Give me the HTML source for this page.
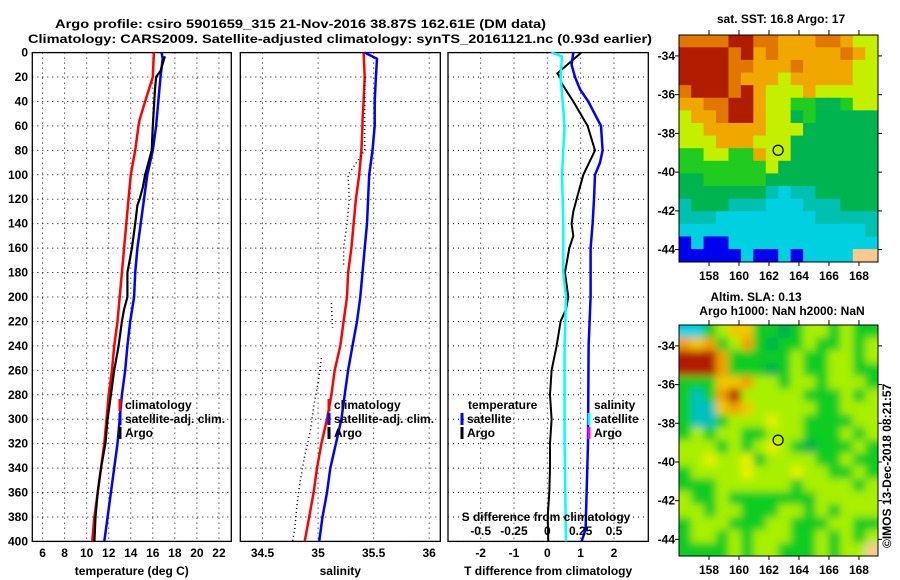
<!DOCTYPE html>
<html><head><meta charset="utf-8"><style>
html,body{margin:0;padding:0;background:#fff}
svg{display:block}
text{font-family:"Liberation Sans",Arial,sans-serif;font-weight:bold;font-size:12px;fill:#000}
</style></head><body>
<svg id="fig" width="900" height="580" viewBox="0 0 900 580" xmlns="http://www.w3.org/2000/svg">
<text x="55" y="28" font-size="14" textLength="491" lengthAdjust="spacingAndGlyphs">Argo profile: csiro 5901659_315 21-Nov-2016 38.87S 162.61E (DM data)</text>
<text x="28" y="43" font-size="14" textLength="624" lengthAdjust="spacingAndGlyphs">Climatology: CARS2009. Satellite-adjusted climatology: synTS_20161121.nc (0.93d earlier)</text>
<g id="p1"></g>
<g id="p2"></g>
<g id="p3"></g>
<g id="m1"></g>
<g id="m2"></g>
<text x="781" y="23" text-anchor="middle">sat. SST: 16.8 Argo: 17</text>
<text x="756" y="301" text-anchor="middle">Altim. SLA: 0.13</text>
<text x="782" y="315" text-anchor="middle">Argo h1000: NaN h2000: NaN</text>
<text transform="translate(891,548) rotate(-90)" font-weight="normal" font-size="11">©IMOS 13-Dec-2018 08:21:57</text>
</svg>
<script>
// ---- data ----
const depthTicks = [0,20,40,60,80,100,120,140,160,180,200,220,240,260,280,300,320,340,360,380,400];
const tempTicks = [6,8,10,12,14,16,18,20,22];
const salTicks = [34.5,35,35.5,36];
const salTickLabels = ["34.5","35","35.5","36"];
const tdiffTicks = [-2,-1,0,1,2];
const sdiffTicks = [-0.5,-0.25,0,0.25,0.5];
const sdiffTickLabels = ["-0.5","-0.25","0","0.25","0.5"];

const climDepth = [0,20,40,55,60,80,100,120,140,160,180,200,220,240,260,280,300,320,340,360,380,400];
const climTemp  = [16.1,16.0,15.3,14.8,14.7,14.4,14.0,13.8,13.6,13.4,13.2,13.0,12.8,12.5,12.3,12.0,11.8,11.6,11.3,11.0,10.7,10.5];
const satDepth  = [0,5,20,40,60,80,100,120,140,160,180,200,220,240,260,280,300,320,340,360,380,400];
const satTemp   = [16.8,16.9,16.7,16.5,16.3,16.0,15.5,15.2,14.9,14.6,14.4,14.3,13.95,13.7,13.5,13.2,13.0,12.8,12.5,12.2,11.9,11.6];
const argoDepth = [3,15,20,30,60,80,90,100,110,120,125,140,160,170,180,200,210,220,240,260,280,300,320,340,360,380,400];
const argoTemp  = [17.1,16.7,16.3,16.2,16.0,15.9,15.6,15.3,15.1,14.8,14.6,14.4,14.1,13.9,13.7,13.7,13.4,13.2,12.9,12.5,12.2,11.9,11.7,11.3,11.0,10.8,10.7];

const climSal = [35.41,35.42,35.41,35.40,35.40,35.39,35.37,35.34,35.32,35.30,35.27,35.26,35.23,35.20,35.15,35.12,35.08,35.03,34.99,34.96,34.92,34.88];
const satSal  = [35.42,35.53,35.52,35.51,35.51,35.49,35.46,35.45,35.44,35.42,35.40,35.38,35.35,35.31,35.27,35.24,35.21,35.16,35.11,35.08,35.04,35.01];
const argoSalDepth = [20,40,60,80,100,120,140,160,175,null,205,225,null,250,270,290,310,330,350,370,390,400];
const argoSal      = [35.42,35.42,35.42,35.42,35.27,35.28,35.26,35.23,35.23,null,35.12,35.13,null,35.03,35.00,34.96,34.93,34.88,34.84,34.81,34.79,34.77];

const tdiffArgoDepth = [0,17,20,25,40,60,80,100,120,130,140,150,160,180,200,210,220,240,260,280,300,320,340,360,380,400];
const tdiffArgo      = [1.02,0.30,0.38,0.43,0.78,1.21,1.43,1.08,0.88,0.78,0.73,0.78,0.66,0.53,0.63,0.56,0.40,0.28,0.13,0.08,0.13,0.08,0.08,0.06,0.01,0.03];
const tdiffSatDepth  = [0,10,20,30,40,60,80,90,100,120,140,160,200,240,280,320,360,390,400];
const tdiffSat       = [0.78,0.73,0.83,0.98,1.23,1.61,1.66,1.58,1.43,1.40,1.36,1.30,1.30,1.24,1.23,1.22,1.18,1.15,1.03];
const sdiffSatDepth  = [0,3,20,60,100,140,180,200,240,280,320,400];
const sdiffSat       = [0.03,0.11,0.10,0.13,0.11,0.12,0.12,0.14,0.13,0.13,0.13,0.14];

const lonTicks = [158,160,162,164,166,168];
const latTicks = [-34,-36,-38,-40,-42,-44];
const argoLon = 162.61, argoLat = -38.87;
const sstGrid = [
"OOOORROOAAAOOALL","RRRRORAOAAAAAOAL","RRRROOAAAOAAAALL","RRRROAAALAAAAALL",
"ORRRORALLLALLLLL","AAOORRALLGGDDGLL","LAAORRALLDGDDDDD","LLAAAAALLLDDDDDD",
"LLLAAALLLDDDDDDD","GGLLGGALLDDDDDDD","GGGGGGGLDDDDDDDD","DDGGGGGDDDDDDDDD",
"DDDDDDDTCTTDDDDD","TDDDTTTCCCTTTDDD","TTTCCCCCCCCTTTTT","CCCCCCCCCCCCCCCT",
"BCBBCCCCCCCCCCCC","BBBBBCBBCBCCCCPP"];
const slaGrid = [
"CCGLAAGGDGLLGLGG","OAOGLOGDGGLGGLGL","RRROGGGGGLGGLLGL","RRROGGGDGLGGLLGG",
"GGGAAOLLGLLGLLLG","GTGORLLLLLGGGLGL","GTTAOALLLLLGGLLL","GTTGLLLYLLGGGGLL",
"GLGLLGGLLLGGGLGL","LLLGLGLYLGDGGGLG","LLYLLYGLLLLGGLGG","GLLLLYLLLYLLGGLG",
"GGGLLLLLLGLLLLGL","LGGLGGGGGGGLLLLL","LLGLLGGGLLGLGLLL","GLLLGGGLLGGGLLGG",
"GLLGLGLLLGGLGLGL","GGGGLGLLGGGLGLLP"];

// ---- helpers ----
const NS = "http://www.w3.org/2000/svg";
function mk(parent, tag, attrs){const e=document.createElementNS(NS,tag);for(const k in attrs)e.setAttribute(k,attrs[k]);parent.appendChild(e);return e;}
const TOP=52.6, BOT=541.4;
function yD(d){return TOP+(d/400)*(BOT-TOP);}
function lin(d0,d1,r0,r1){return v=>r0+(v-d0)*(r1-r0)/(d1-d0);}

function panel(g,x0,x1,xs,ticks,labels,xlabel){
  mk(g,'rect',{x:x0,y:TOP,width:x1-x0,height:BOT-TOP,fill:'#fff',stroke:'none'});
  depthTicks.forEach(d=>{const l=mk(g,'line',{x1:x0,x2:x1,y1:yD(d),y2:yD(d),stroke:'#000','stroke-width':1,'stroke-dasharray':'1,4'});
    });
  ticks.forEach((t,i)=>{const X=xs(t);
    const l=mk(g,'line',{x1:X,x2:X,y1:TOP,y2:BOT,stroke:'#000','stroke-width':1,'stroke-dasharray':'1,4'});
    
    const tx=mk(g,'text',{x:X,y:557,'text-anchor':'middle'});tx.textContent=labels[i];
    });
  const r=mk(g,'rect',{x:x0,y:TOP,width:x1-x0,height:BOT-TOP,fill:'none',stroke:'#000','stroke-width':1.3});
  
  const xl=mk(g,'text',{x:(x0+x1)/2,y:575,'text-anchor':'middle'});xl.textContent=xlabel;
  
}
function series(g,xs,vals,depths,color,w,name,dash){
  let segs=[[]];
  vals.forEach((v,i)=>{if(v===null||depths[i]===null){segs.push([]);}else segs[segs.length-1].push(xs(v).toFixed(1)+','+yD(depths[i]).toFixed(1));});
  segs.filter(s=>s.length>1).forEach(s=>{
    const p=mk(g,'polyline',{points:s.join(' '),fill:'none',stroke:color,'stroke-width':w,'stroke-linejoin':'round'});
    if(dash)p.setAttribute('stroke-dasharray',dash);
    
    
  });
}
function legend(g,x,y,color,label){
  const r=mk(g,'rect',{x:x-1.5,y:y-10,width:3,height:12,fill:color});
  
  const t=mk(g,'text',{x:x+5,y:y});t.textContent=label;
  
}

// ---- panel 1 temperature ----
const p1=document.getElementById('p1');
const xT=lin(5.07,23.12,32.3,231.3);
panel(p1,32.3,231.3,xT,tempTicks,tempTicks.map(String),'temperature (deg C)');
depthTicks.forEach(d=>{const t=mk(p1,'text',{x:28,y:yD(d)+4,'text-anchor':'end'});t.textContent=d;
  });
series(p1,xT,climTemp,climDepth,'#f00',2.5,'climatology-temperature-line');
series(p1,xT,satTemp,satDepth,'#00f',2.5,'satellite-temperature-line');
series(p1,xT,argoTemp,argoDepth,'#000',2.2,'argo-temperature-line');
legend(p1,120,409,'#f00','climatology');legend(p1,120,423,'#00f','satellite-adj. clim.');legend(p1,120,437,'#000','Argo');

// ---- panel 2 salinity ----
const p2=document.getElementById('p2');
const xS=lin(34.30,36.10,240.3,440.3);
panel(p2,240.3,440.3,xS,salTicks,salTickLabels,'salinity');
series(p2,xS,climSal,climDepth,'#f00',2.5,'climatology-salinity-line');
series(p2,xS,satSal,satDepth,'#00f',2.5,'satellite-salinity-line');
series(p2,xS,argoSal,argoSalDepth,'#000',1.5,'argo-salinity-dots','1,3');
legend(p2,329,409,'#f00','climatology');legend(p2,329,423,'#00f','satellite-adj. clim.');legend(p2,329,437,'#000','Argo');

// ---- panel 3 differences ----
const p3=document.getElementById('p3');
const xTD=lin(-2.98,3.03,448,648.3);
const xSD=v=>xTD(v*4);
panel(p3,448,648.3,xTD,tdiffTicks,tdiffTicks.map(String),'T difference from climatology');
series(p3,xTD,tdiffArgo,tdiffArgoDepth,'#000',2,'argo-temperature-difference-line');
series(p3,xTD,tdiffSat,tdiffSatDepth,'#00f',2.5,'satellite-temperature-difference-line');
series(p3,xSD,sdiffSat,sdiffSatDepth,'#0ff',2.5,'satellite-salinity-difference-line');
{const t=mk(p3,'text',{x:468,y:409});t.textContent='temperature';}
{const t=mk(p3,'text',{x:594,y:409});t.textContent='salinity';}
legend(p3,462,423,'#00f','satellite');legend(p3,462,437,'#000','Argo');
legend(p3,589,423,'#0ff','satellite');legend(p3,589,437,'#f0f','Argo');
{const t=mk(p3,'text',{x:546,y:521,'text-anchor':'middle'});t.textContent='S difference from climatology';}
sdiffTicks.forEach((s,i)=>{const t=mk(p3,'text',{x:xSD(s),y:535,'text-anchor':'middle'});t.textContent=sdiffTickLabels[i];
  });

// ---- maps ----
const COL={R:'#b01c00',O:'#e07800',A:'#f0a800',Y:'#f0e000',L:'#c4f000',G:'#20cc20',D:'#00b450',T:'#00c0b0',C:'#00d0e0',B:'#0000f0',P:'#f8c890'};
const SLACOL={R:'#b01c00',O:'#f0a000',A:'#f0c800',Y:'#e8f000',L:'#a8f000',G:'#10cc20',D:'#00b050',T:'#00c0c0',C:'#00d0e0',P:'#f8c890'};
function drawMap(id,top,H,latBot,grid,cols,blur){
  const g=document.getElementById(id);
  const L=679,R=878,W=R-L;
  const lonX=lin(156,169.27,L,R), latY=lin(-32.92,latBot,top,top+H);
  const defs=mk(g,'defs',{});
  const clipId='clip'+id;
  const cp=mk(defs,'clipPath',{id:clipId});mk(cp,'rect',{x:L,y:top,width:W,height:H});
  const cg=mk(g,'g',{'clip-path':'url(#'+clipId+')'});
  let inner=cg;
  if(blur){const f=mk(defs,'filter',{id:'bl'+id,x:'-10%',y:'-10%',width:'120%',height:'120%'});mk(f,'feGaussianBlur',{stdDeviation:4});inner=mk(cg,'g',{filter:'url(#bl'+id+')'});}
  const nr=grid.length,nc=grid[0].length,cw=W/nc,ch=H/nr;
  const pad=blur?14:0;
  grid.forEach((row,r)=>{[...row].forEach((c,k)=>{
    let x=L+k*cw-0.3,y=top+r*ch-0.3,w=cw+0.6,h=ch+0.6;
    if(k===0){x-=pad;w+=pad;} if(k===nc-1){w+=pad;}
    if(r===0){y-=pad;h+=pad;} if(r===nr-1){h+=pad;}
    const e=mk(inner,'rect',{x:x,y:y,width:w,height:h,fill:cols[c]});
    });});
  const fr=mk(g,'rect',{x:L,y:top,width:W,height:H,fill:'none',stroke:'#000','stroke-width':1});
  
  lonTicks.forEach(v=>{const X=lonX(v);
    mk(g,'line',{x1:X,x2:X,y1:top,y2:top-5,stroke:'#000'});mk(g,'line',{x1:X,x2:X,y1:top+H,y2:top+H+4,stroke:'#000'});
    const t=mk(g,'text',{x:X,y:top+H+18,'text-anchor':'middle'});t.textContent=v;
    });
  latTicks.forEach(v=>{const Y=latY(v);
    mk(g,'line',{x1:L,x2:L-4,y1:Y,y2:Y,stroke:'#000'});mk(g,'line',{x1:R,x2:R+4,y1:Y,y2:Y,stroke:'#000'});
    const t=mk(g,'text',{x:675,y:Y+4,'text-anchor':'end'});t.textContent=v;
    });
  const c=mk(g,'circle',{cx:lonX(argoLon),cy:latY(argoLat),r:5,fill:'none',stroke:'#000','stroke-width':1.2});
  
}
drawMap('m1',35,227,-44.64,sstGrid,COL,false);
drawMap('m2',325,231,-44.86,slaGrid,SLACOL,true);
</script>
</body></html>
